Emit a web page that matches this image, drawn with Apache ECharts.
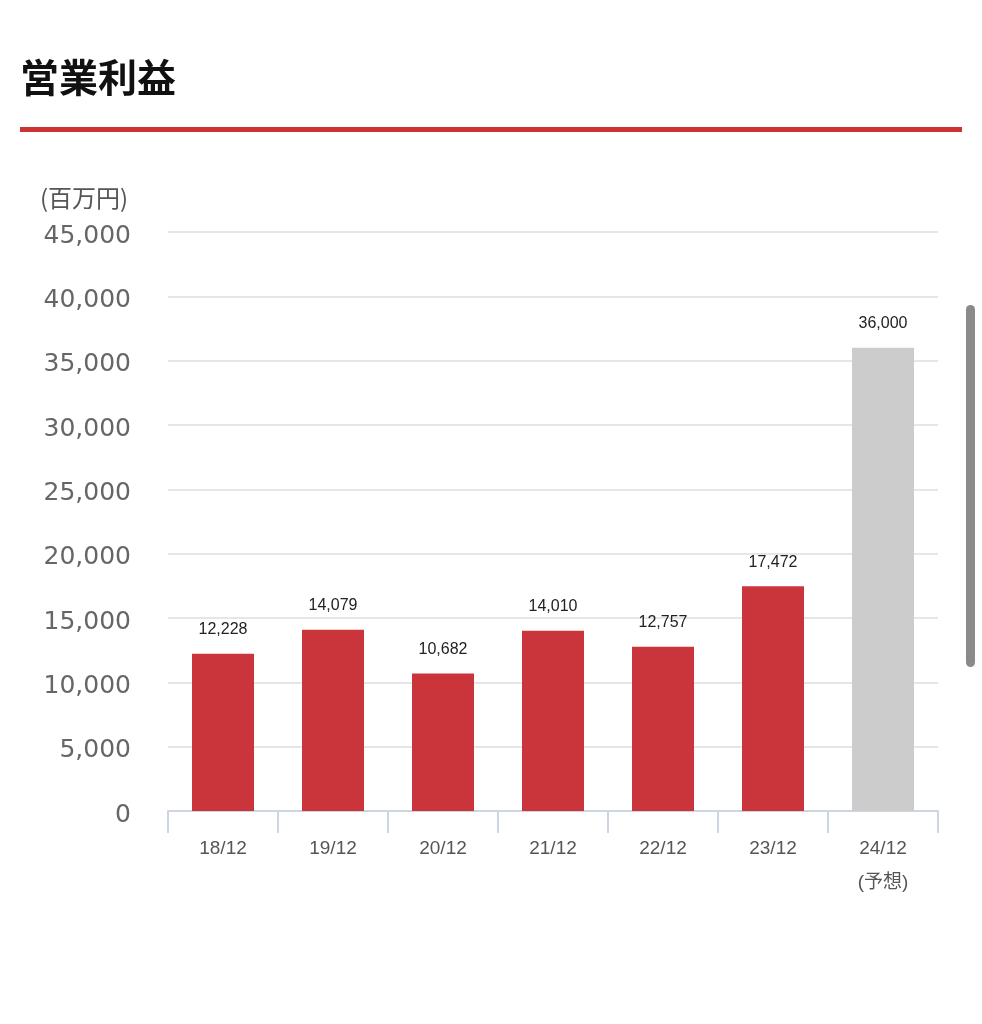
<!DOCTYPE html>
<html>
<head>
<meta charset="utf-8">
<script src="https://cdn.jsdelivr.net/npm/echarts@6/dist/echarts.min.js"></script>
<style>
html,body{margin:0;padding:0;background:#fff;}
#c{width:982px;height:1024px;}
</style>
</head>
<body>
<div id="c"></div>
<script>
const categories = ['18/12','19/12','20/12','21/12','22/12','23/12','24/12\n(予想)'];
const values = [12228, 14079, 10682, 14010, 12757, 17472, 36000];
const forecastFlags = [false, false, false, false, false, false, true];
const yTicks = [0, 5000, 10000, 15000, 20000, 25000, 30000, 35000, 40000, 45000];

const chart = echarts.init(document.getElementById('c'), null, {renderer: 'canvas'});
const font = '"Helvetica Neue", Helvetica, "Liberation Sans", Arial, "Noto Sans CJK JP", sans-serif';
chart.setOption({
  animation: false,
  backgroundColor: '#ffffff',
  textStyle: {fontFamily: font},
  title: {
    text: '営業利益',
    left: 15, top: 53,
    textStyle: {fontSize: 39, fontWeight: 'bold', color: '#111', fontFamily: '"Noto Sans CJK JP", sans-serif'}
  },
  graphic: [
    {type: 'rect', shape: {x: 20, y: 127, width: 942, height: 5}, style: {fill: '#cc3333'}},
    {type: 'text', left: 40, top: 186, style: {text: '(百万円)', font: '24px "Noto Sans CJK JP", sans-serif', fill: '#555'}},
    {type: 'rect', shape: {x: 966, y: 305, width: 9, height: 362, r: 4.5}, style: {fill: '#8a8a8a'}}
  ],
  grid: {left: 168, right: 44, top: 232, bottom: 213, containLabel: false},
  xAxis: {
    type: 'category',
    data: categories,
    axisLine: {lineStyle: {color: '#cdd5e3', width: 2}},
    axisTick: {show: true, length: 22, lineStyle: {color: '#cdd5e3', width: 2}},
    axisLabel: {color: '#555', fontSize: 19, margin: 21, lineHeight: 34, fontFamily: font}
  },
  yAxis: {
    type: 'value',
    min: 0, max: 45000, interval: 5000,
    axisLine: {show: false},
    axisTick: {show: false},
    splitLine: {lineStyle: {color: '#e6e6e6', width: 2}},
    axisLabel: {
      color: '#666', fontSize: 25, margin: 37, fontFamily: '"DejaVu Sans", sans-serif',
      formatter: v => '{a|' + v.toLocaleString('en-US') + '}',
      rich: {a: {color: '#666', fontSize: 25, fontFamily: '"DejaVu Sans", sans-serif', padding: [8, 0, 0, 0]}}
    }
  },
  series: [{
    type: 'bar',
    barWidth: 62,
    data: values.map((v, i) => ({value: v, itemStyle: {color: forecastFlags[i] ? '#cccccc' : '#c9353a'}})),
    label: {
      show: true, position: 'top', distance: 16,
      color: '#222', fontSize: 16, fontFamily: font,
      formatter: p => p.value.toLocaleString('en-US')
    }
  }]
});
</script>
</body>
</html>
